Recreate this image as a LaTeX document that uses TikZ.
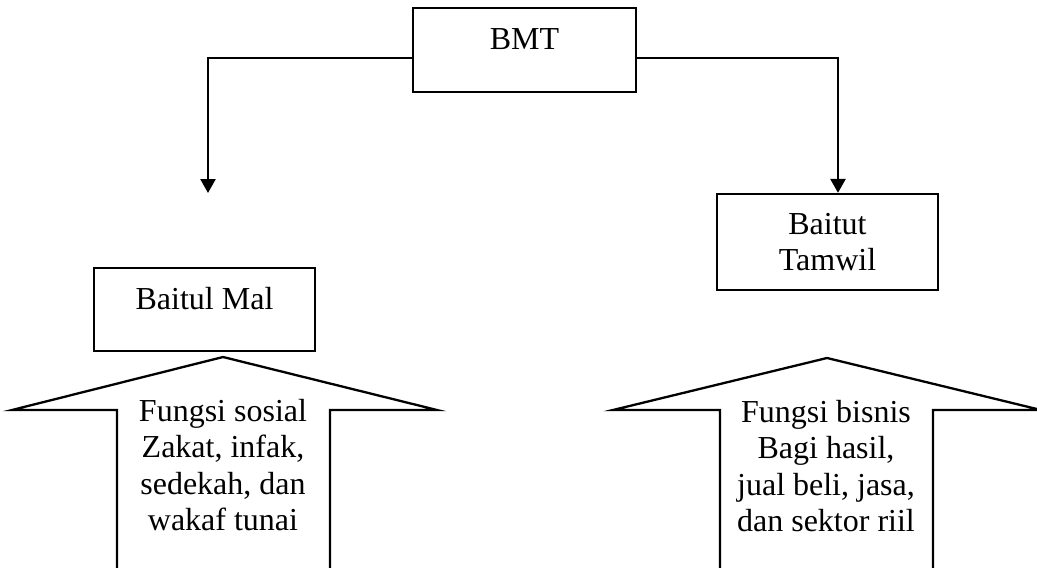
\documentclass[tikz,border=0pt]{standalone}
\usepackage{fontspec}
\setmainfont{Liberation Serif}
\usetikzlibrary{arrows.meta}
\begin{document}
\begin{tikzpicture}[x=1pt,y=-1pt,
  every node/.style={font=\fontsize{32}{36.5}\selectfont},
  box/.style={draw,line width=2.3pt,inner sep=0pt,minimum width=222pt},
  conn/.style={line width=2.6pt,-{Triangle[width=15pt,length=14pt]}},
  blockarrow/.style={line width=2.3pt,line join=miter},
  label/.style={align=center,inner sep=0pt}]
\useasboundingbox (0,0) rectangle (1037,568);
% boxes
\node[box,minimum width=223pt,text height=41pt,text depth=43pt] (bmt) at (524.5,50) {BMT};
\node[box,minimum width=221pt,text height=41pt,text depth=42pt] (mal) at (204.5,309.5) {Baitul Mal};
\node[box,minimum width=221pt,minimum height=96pt,align=center] (tamwil) at (827.5,242) {Baitut\\Tamwil};
% connectors
\coordinate (lt) at (208,58);
\coordinate (lend) at (208,193);
\coordinate (rt) at (838,58);
\draw[conn] (bmt.west |- lt) -- (lt) -- (lend);
\draw[conn] (bmt.east |- rt) -- (rt) -- (rt |- tamwil.north);
% block arrows
\draw[blockarrow] (117,569) -- (117,410) -- (12,410) -- (223,357) -- (437,410) -- (330,410) -- (330,569);
\draw[blockarrow] (720,569) -- (720,410) -- (613,410) -- (827,358) -- (1041,410) -- (933,410) -- (933,569);
\node[label] (sosial) at (223,465) {Fungsi sosial\\Zakat, infak,\\sedekah, dan\\wakaf tunai};
\node[label] (bisnis) at (826,466) {Fungsi bisnis\\Bagi hasil,\\jual beli, jasa,\\dan sektor riil};
\end{tikzpicture}
\end{document}
